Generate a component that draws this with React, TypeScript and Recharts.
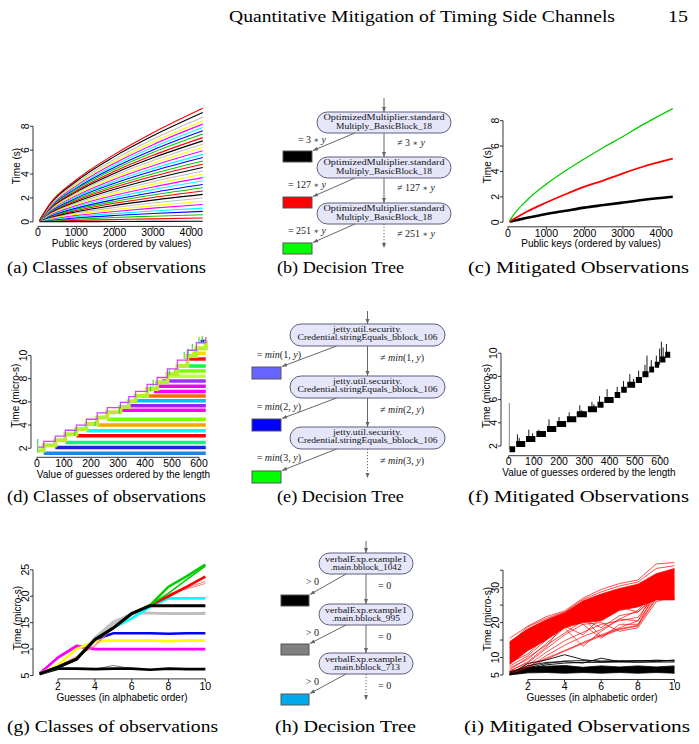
import React from 'react';
import { ComposedChart, Line, Area, XAxis, YAxis } from 'recharts';

const SANS = '"Liberation Sans", Arial, Helvetica, sans-serif';
const SERIF = '"Liberation Serif", "Times New Roman", serif';
const RPAL = ['#000000', '#FF0000', '#00CD00', '#0000FF', '#00FFFF', '#FF00FF', '#FFFF00', '#BEBEBE'];

// (a) classes of observations, one row per class, values at keyValues
const keyValues = [40, 300, 1000, 2000, 3000, 4300];
const classTimes = [
  [0.02, 0.02, 0.02, 0.03, 0.04, 0.05],
  [0.08, 0.09, 0.12, 0.19, 0.25, 0.32],
  [0.12, 0.13, 0.22, 0.36, 0.47, 0.6],
  [0.12, 0.15, 0.33, 0.53, 0.7, 0.88],
  [0.12, 0.19, 0.43, 0.69, 0.91, 1.15],
  [0.12, 0.23, 0.54, 0.87, 1.15, 1.45],
  [0.12, 0.27, 0.64, 1.03, 1.36, 1.72],
  [0.12, 0.31, 0.74, 1.2, 1.58, 2.0],
  [0.12, 0.36, 0.85, 1.38, 1.82, 2.3],
  [0.12, 0.4, 0.95, 1.55, 2.04, 2.58],
  [0.12, 0.44, 1.05, 1.71, 2.25, 2.85],
  [0.12, 0.48, 1.15, 1.87, 2.46, 3.12],
  [0.12, 0.53, 1.27, 2.05, 2.7, 3.42],
  [0.12, 0.57, 1.37, 2.22, 2.92, 3.7],
  [0.12, 0.62, 1.47, 2.39, 3.14, 3.98],
  [0.12, 0.66, 1.57, 2.55, 3.36, 4.25],
  [0.12, 0.71, 1.68, 2.73, 3.59, 4.55],
  [0.12, 0.75, 1.78, 2.89, 3.81, 4.82],
  [0.12, 0.79, 1.89, 3.06, 4.03, 5.1],
  [0.12, 0.83, 1.99, 3.23, 4.25, 5.38],
  [0.12, 0.88, 2.09, 3.39, 4.46, 5.65],
  [0.12, 0.92, 2.2, 3.57, 4.7, 5.95],
  [0.12, 0.96, 2.3, 3.73, 4.91, 6.22],
  [0.12, 1.01, 2.41, 3.9, 5.14, 6.5],
  [0.12, 1.05, 2.51, 4.07, 5.36, 6.78],
  [0.12, 1.09, 2.61, 4.23, 5.57, 7.05],
  [0.12, 1.14, 2.72, 4.41, 5.81, 7.35],
  [0.12, 1.18, 2.82, 4.57, 6.02, 7.62],
  [0.12, 1.22, 2.92, 4.74, 6.24, 7.9],
  [0.12, 1.27, 3.03, 4.91, 6.46, 8.18],
  [0.12, 1.31, 3.13, 5.07, 6.68, 8.45],
  [0.12, 1.36, 3.24, 5.25, 6.91, 8.75],
  [0.12, 1.42, 3.4, 5.48, 7.2, 9.15],
  [0.12, 1.47, 3.52, 5.65, 7.45, 9.5],
];

// (c) mitigated observations
const mitKeys = [40, 150, 500, 1000, 1500, 2000, 2500, 3000, 3500, 4300];
const mitGreen = [0.1, 0.6, 1.75, 3.0, 4.05, 5.0, 5.9, 6.75, 7.65, 8.95];
const mitRed = [0.05, 0.25, 0.85, 1.55, 2.2, 2.8, 3.3, 3.85, 4.35, 5.0];
const mitBlack = [0.05, 0.12, 0.35, 0.65, 0.9, 1.15, 1.35, 1.55, 1.75, 2.0];

// (d) classes of guesses
const dBandLevels = [1.57, 2.06, 2.5, 3.07, 3.5, 4.0, 4.5, 5.27, 5.67, 6.1, 6.5, 6.9, 7.35, 7.8, 8.2, 8.65, 9.1, 9.7, 10.2, 10.65, 11.2];
const dBandStarts = [25, 68, 105, 146, 183, 223, 260, 309, 340, 365, 408, 433, 445, 464, 483, 507, 520, 557, 575, 590, 606];
const dBandEnd = 625;
const dBandColors = ['#1C86EE', '#2020E8', '#00FF7F', '#FF0000', '#00FFFF', '#FFA500', '#7FFF00', '#FF00FF', '#A020F0', '#00BFFF', '#FF6A00', '#FF00FF', '#EE00EE', '#9B30FF', '#C0FF3E', '#7CFC00', '#00FF40', '#FF1010', '#FFD700', '#FFF000', '#0000FF'];
const dStairX = [5, 25, 68, 105, 146, 183, 223, 260, 309, 340, 365, 408, 445, 483, 520, 557, 590, 625];
const dStairY = [1.8, 2.25, 2.7, 3.2, 3.65, 4.1, 4.65, 5.1, 5.55, 6.05, 6.5, 7.1, 7.7, 8.4, 9.1, 9.95, 10.6, 11.3];
const dStairHiY = [2.1, 2.6, 3.05, 3.55, 4.0, 4.5, 5.05, 5.5, 5.95, 6.45, 6.9, 7.5, 8.1, 8.85, 9.6, 10.45, 11.1, 11.6];
const dSpikeX = [3, 140, 215, 305, 420, 430, 490, 545, 560, 575, 600, 612];
const dSpikeLo = [1.6, 3.1, 3.9, 5.0, 6.9, 7.3, 8.3, 9.7, 10.0, 10.5, 11.0, 11.1];
const dSpikeHi = [2.8, 3.5, 4.3, 5.6, 7.4, 7.9, 8.8, 10.3, 10.6, 11.0, 11.6, 11.7];

// (f) mitigated guesses
const fStarts = [4, 30, 69, 110, 152, 191, 231, 270, 314, 352, 379, 420, 446, 470, 504, 530, 557, 579, 600, 620];
const fEnds = [26, 66, 106, 148, 189, 228, 268, 310, 350, 376, 416, 442, 468, 501, 528, 554, 576, 596, 621, 640];
const fLevels = [1.71, 2.17, 2.6, 3.04, 3.47, 3.9, 4.3, 4.74, 5.17, 5.55, 5.97, 6.4, 6.84, 7.27, 7.7, 8.19, 8.6, 9.0, 9.45, 9.86];
const fSpikeX = [35, 42, 80, 95, 120, 160, 200, 240, 282, 290, 330, 338, 360, 390, 430, 455, 480, 495, 515, 540, 548, 565, 585, 598, 605, 612, 625];
const fSpikeLo = [2.2, 2.2, 2.6, 2.6, 3.0, 3.5, 3.9, 4.3, 4.7, 4.7, 5.2, 5.2, 5.6, 6.0, 6.4, 6.8, 7.3, 7.3, 7.7, 8.2, 8.2, 8.6, 9.0, 9.0, 9.5, 9.5, 9.9];
const fSpikeHi = [3.0, 2.7, 3.4, 3.1, 3.4, 4.3, 4.5, 4.9, 5.5, 5.1, 5.8, 5.6, 6.3, 6.9, 7.1, 7.6, 8.2, 7.8, 8.5, 9.0, 9.8, 9.4, 9.8, 10.4, 11.0, 10.5, 10.8];
const fTallX = [3];
const fTallLo = [1.7];
const fTallHi = [5.7];

// (g) classes of guesses, x = guess index
const guesses = [1, 2, 3, 4, 5, 6, 7, 8, 9, 10];
const gBlackLow = [5.3, 6.3, 6.3, 6.2, 6.3, 6.3, 6.1, 6.3, 6.2, 6.2];
const gGrayLow = [5.3, 6.2, 6.3, 6.2, 6.9, 6.3, 6.2, 6.2, 6.3, 6.2];
const gMagenta = [5.4, 8.4, 10.5, 10.0, 10.0, 10.0, 10.0, 10.0, 10.0, 10.0];
const gMagenta2 = [5.4, 8.6, 10.8, 10.1, 9.9, 10.0, 10.0, 9.9, 10.0, 10.0];
const gYellow = [5.3, 7.0, 10.0, 11.5, 11.6, 11.6, 11.6, 11.5, 11.6, 11.6];
const gBlue = [5.3, 6.6, 8.1, 11.8, 13.0, 13.0, 13.0, 12.9, 13.0, 13.0];
const gGray = [5.3, 6.6, 8.1, 11.9, 14.8, 16.8, 16.8, 16.7, 16.7, 16.7];
const gGray2 = [5.3, 6.7, 8.3, 12.3, 15.3, 16.7, 16.9, 16.8, 16.8, 16.9];
const gCyan = [5.3, 6.6, 8.1, 11.8, 14.0, 15.8, 18.0, 19.6, 19.6, 19.6];
const gRed = [5.3, 6.6, 8.1, 11.8, 14.0, 16.7, 18.3, 20.0, 21.8, 23.7];
const gRedThin1 = [5.3, 6.8, 8.6, 10.5, 14.0, 16.7, 18.3, 20.2, 21.4, 22.4];
const gRedThin2 = [5.3, 6.6, 8.4, 10.8, 14.0, 16.7, 18.3, 20.4, 21.6, 22.8];
const gGreen = [5.3, 6.6, 8.1, 11.8, 14.0, 16.7, 18.3, 21.8, 23.8, 26.0];
const gGreen2 = [5.3, 6.6, 8.1, 11.8, 14.0, 16.7, 18.3, 20.6, 23.2, 25.7];
const gBlackTop = [5.3, 6.6, 8.1, 11.8, 14.0, 16.7, 18.2, 18.2, 18.2, 18.2];

// (i) mitigated guesses
const iRedLo = [8, 12, 15, 18.5, 20, 20.5, 23.5, 24.5, 26.5, 26.5];
const iRedHi = [14.5, 18.2, 20.8, 22.8, 26.2, 28.2, 29.8, 31, 34, 35.5];
const iRedTop = [15.5, 19, 21.7, 23.3, 27, 29.5, 31.2, 32.2, 36.8, 37.2];
const iRedStray = [
  [5.3, 7.2, 10.5, 13.5, 16, 18, 21, 23.5, 29, 32],
  [5.6, 7.8, 11.5, 14.8, 17.2, 19.5, 20.5, 21.5, 28, 30],
  [6.2, 8.5, 12.5, 16.5, 19.5, 15.5, 19.5, 19.5, 27, 29.5],
  [7, 9.5, 14, 18.5, 13.2, 17.5, 21, 20.5, 27.5, 28.5],
  [5.5, 7.4, 9.8, 12, 14.3, 16.5, 18.5, 20.5, 30, 31],
  [6, 8.8, 13, 19.8, 21.5, 16, 18, 19, 26.8, 27],
  [8.5, 11, 16, 21, 19.5, 20, 17.5, 18.5, 26, 27.5],
  [10, 12.5, 15.5, 19.5, 21, 18.5, 22, 23, 27.5, 28],
  [5.2, 7, 9.5, 11.8, 14, 16.2, 18.2, 19.2, 29, 33],
  [6.5, 10, 13.5, 17, 20.5, 21, 24, 26, 30, 27],
  [12, 15, 17, 19, 16.5, 21.5, 24.5, 23, 28, 30.5],
  [7.5, 10.5, 15, 21.5, 20.5, 22, 25, 25.5, 29, 26.8],
  [14, 18.8, 21.2, 23, 26.6, 28.8, 30.5, 31.6, 35.5, 36.3],
  [13, 17.5, 20, 22.2, 25.5, 27.5, 29, 30.2, 33, 34.8],
];
const iBlackLo = [5.0, 5.6, 5.7, 5.5, 5.7, 5.5, 5.7, 5.5, 5.7, 5.5];
const iBlackHi = [6.0, 7.2, 7.5, 7.7, 7.2, 7.6, 7.3, 7.6, 7.3, 7.6];
const iBlackStray = [
  [5.0, 7.0, 8.3, 9.0, 9.1, 9.0, 9.1, 9.0, 9.2, 9.1],
  [5.2, 8.3, 9.3, 10.8, 9.4, 8.8, 8.9, 9.0, 9.2, 9.0],
  [5.5, 7.6, 8.6, 8.8, 8.4, 9.8, 8.8, 9.1, 8.8, 9.3],
  [5.1, 6.5, 7.9, 8.4, 8.6, 8.6, 8.7, 8.6, 8.7, 8.7],
];

// tables built from the arrays above
const aTable = keyValues.map((x, j) => {
  const row: any = { x };
  classTimes.forEach((ys, i) => { row['c' + i] = ys[j]; });
  return row;
});
const cTable = mitKeys.map((x, j) => ({ x, green: mitGreen[j], red: mitRed[j], black: mitBlack[j] }));
const gTable = guesses.map((x, j) => ({
  x, blackLow: gBlackLow[j], grayLow: gGrayLow[j], magenta: gMagenta[j], magenta2: gMagenta2[j],
  yellow: gYellow[j], blue: gBlue[j], gray: gGray[j], gray2: gGray2[j], cyan: gCyan[j],
  red: gRed[j], redThin1: gRedThin1[j], redThin2: gRedThin2[j], green: gGreen[j], green2: gGreen2[j],
  blackTop: gBlackTop[j],
}));
const iTable = guesses.map((x, j) => {
  const row: any = { x, redRange: [iRedLo[j], iRedHi[j]], redTop: iRedTop[j], blackRange: [iBlackLo[j], iBlackHi[j]] };
  iRedStray.forEach((s, k) => { row['r' + k] = s[j]; });
  iBlackStray.forEach((s, k) => { row['k' + k] = s[j]; });
  return row;
});
const segments = (xs: number[], lo: number[], hi: number[]) =>
  xs.flatMap((x, k) => [{ x, y: lo[k] }, { x, y: hi[k] }, { x: x + 0.01, y: null }]);
const blocks = fStarts.flatMap((s, k) => [{ x: s, y: fLevels[k] }, { x: fEnds[k], y: fLevels[k] }, { x: fEnds[k] + 0.01, y: null }]);

const TICK_FS = 10.5;
const AXIS = '#000';

function XTick(props: any) {
  const { x, y, payload, stepPx, last, dy } = props;
  const v = payload.value;
  return (
    <g>
      <line x1={x} y1={y} x2={x} y2={y + 3} stroke={AXIS} strokeWidth={0.8} />
      {v < last && <line x1={x} y1={y} x2={x + stepPx} y2={y} stroke={AXIS} strokeWidth={0.8} />}
      <text x={x} y={y + dy} textAnchor="middle" fontSize={TICK_FS} fontFamily={SANS} fill="#000">{v}</text>
    </g>
  );
}

function YTick(props: any) {
  const { x, y, payload, stepPx, last, labels } = props;
  const v = payload.value;
  const show = !labels || labels.includes(v);
  const tx = x - 3.8;
  return (
    <g>
      <line x1={x} y1={y} x2={x - 3} y2={y} stroke={AXIS} strokeWidth={0.8} />
      {v < last && <line x1={x} y1={y} x2={x} y2={y - stepPx} stroke={AXIS} strokeWidth={0.8} />}
      {show && (
        <text x={tx} y={y} transform={`rotate(-90 ${tx} ${y})`} textAnchor="middle" fontSize={TICK_FS} fontFamily={SANS} fill="#000">{v}</text>
      )}
    </g>
  );
}

const PAD_L = 40, PAD_T = 12, PAD_R = 12, PAD_B = 30;

function Panel(props: {
  plot: number[]; xDomain: number[]; yDomain: number[]; xTicks: number[]; yTicks: number[];
  yLabels?: number[]; data?: any[]; labelDy: number; children: React.ReactNode;
}) {
  const { plot, xDomain, yDomain, xTicks, yTicks, yLabels, data, labelDy, children } = props;
  const [l, t, r, b] = plot;
  const w = r - l, h = b - t;
  const xStep = (xTicks[1] - xTicks[0]) * w / (xDomain[1] - xDomain[0]);
  const yStep = (yTicks[1] - yTicks[0]) * h / (yDomain[1] - yDomain[0]);
  return (
    <div style={{ position: 'absolute', left: l - PAD_L, top: t - PAD_T }}>
      <ComposedChart width={w + PAD_L + PAD_R} height={h + PAD_T + PAD_B} data={data}
        margin={{ top: PAD_T, right: PAD_R, bottom: 0, left: 0 }}>
        <XAxis type="number" dataKey="x" domain={xDomain} allowDataOverflow ticks={xTicks} interval={0}
          height={PAD_B} axisLine={false} tickLine={false} tickSize={0} tickMargin={0}
          tick={(p: any) => <XTick {...p} stepPx={xStep} last={xTicks[xTicks.length - 1]} dy={labelDy} />} />
        <YAxis type="number" domain={yDomain} allowDataOverflow ticks={yTicks} interval={0}
          width={PAD_L} axisLine={false} tickLine={false} tickSize={0} tickMargin={0}
          tick={(p: any) => <YTick {...p} stepPx={yStep} last={yTicks[yTicks.length - 1]} labels={yLabels} />} />
        {children}
      </ComposedChart>
    </div>
  );
}

const ln = (key: string, color: string, width: number, extra: any = {}) => (
  <Line key={key} dataKey={key} stroke={color} strokeWidth={width} dot={false} activeDot={false}
    isAnimationActive={false} legendType="none" {...extra} />
);

type TreeSpec = {
  cx: number; nodeW: number; nodeH: number; nodeTops: number[]; nodeLines: string[][];
  lineDy: number[]; textW: number[][]; leafX: number; leafW: number; leafH: number;
  leafTops: number[]; leafColors: string[]; entryTop: number; dottedEnd: number; fromDx: number;
  eqLabels: React.ReactNode[]; eqX: number; eqDy: number; neqLabels: React.ReactNode[]; neqX: number; neqDy: number;
};

const it = (s: string) => <tspan fontStyle="italic">{s}</tspan>;
const ast = <tspan fontSize={8} fontFamily='"DejaVu Serif", serif'>∗</tspan>;

const treeB: TreeSpec = {
  cx: 384, nodeW: 134, nodeH: 21, nodeTops: [112, 157, 203],
  nodeLines: [['OptimizedMultiplier.standard', 'Multiply_BasicBlock_18'], ['OptimizedMultiplier.standard', 'Multiply_BasicBlock_18'], ['OptimizedMultiplier.standard', 'Multiply_BasicBlock_18']],
  lineDy: [8.4, 16.6], textW: [[121, 96], [121, 96], [121, 96]],
  leafX: 283, leafW: 29, leafH: 11, leafTops: [151, 197, 243], leafColors: ['#000000', '#FF0000', '#00FF00'],
  entryTop: 98, dottedEnd: 248, fromDx: 29,
  eqLabels: [<>= 3 {ast} {it('y')}</>, <>= 127 {ast} {it('y')}</>, <>= 251 {ast} {it('y')}</>], eqX: 326, eqDy: 10,
  neqLabels: [<>≠ 3 {ast} {it('y')}</>, <>≠ 127 {ast} {it('y')}</>, <>≠ 251 {ast} {it('y')}</>], neqX: 397, neqDy: 12.5,
};
const treeE: TreeSpec = {
  cx: 367.5, nodeW: 155, nodeH: 22, nodeTops: [324, 376, 427],
  nodeLines: [['jetty.util.security.', 'Credential.stringEquals_bblock_106'], ['jetty.util.security.', 'Credential.stringEquals_bblock_106'], ['jetty.util.security.', 'Credential.stringEquals_bblock_106']],
  lineDy: [7.6, 15.9], textW: [[69, 140], [69, 140], [69, 140]],
  leafX: 252, leafW: 29, leafH: 12, leafTops: [367, 419, 471], leafColors: ['#6666FF', '#0000FF', '#00FF00'],
  entryTop: 311, dottedEnd: 478, fromDx: 31,
  eqLabels: [1, 2, 3].map((k) => <>= {it('min')}({k}, {it('y')})</>), eqX: 301, eqDy: 11.5,
  neqLabels: [1, 2, 3].map((k) => <>≠ {it('min')}({k}, {it('y')})</>), neqX: 380, neqDy: 15,
};
const treeH: TreeSpec = {
  cx: 366, nodeW: 94, nodeH: 21, nodeTops: [553, 604, 653],
  nodeLines: [['verbalExp.example1', '.main.bblock_1042'], ['verbalExp.example1', '.main.bblock_995'], ['verbalExp.example1', '.main.bblock_713']],
  lineDy: [8.8, 17.1], textW: [[82, 71], [82, 68], [82, 68]],
  leafX: 281, leafW: 28, leafH: 11, leafTops: [595, 644, 694], leafColors: ['#000000', '#808080', '#00A8EC'],
  entryTop: 541, dottedEnd: 700, fromDx: 20,
  eqLabels: ['> 0', '> 0', '> 0'], eqX: 319, eqDy: 11,
  neqLabels: ['= 0', '= 0', '= 0'], neqX: 378, neqDy: 14.5,
};

function Tree({ s }: { s: TreeSpec }) {
  const edge = { stroke: '#666', strokeWidth: 1, markerEnd: 'url(#ah)' };
  return (
    <g>
      <line x1={s.cx} y1={s.entryTop} x2={s.cx} y2={s.nodeTops[0]} {...edge} />
      {s.nodeTops.map((top, i) => {
        const bot = top + s.nodeH;
        const last = i === s.nodeTops.length - 1;
        return (
          <g key={i}>
            <rect x={s.cx - s.nodeW / 2} y={top} width={s.nodeW} height={s.nodeH} rx={s.nodeH / 2}
              fill="#E6E6FA" stroke="#5E5E7A" strokeWidth={1} />
            {s.nodeLines[i].map((txt, j) => (
              <text key={j} x={s.cx} y={top + s.lineDy[j]} textAnchor="middle" fontSize={7.8} fontFamily={SERIF}
                textLength={s.textW[i][j]} lengthAdjust="spacingAndGlyphs" fill="#111">{txt}</text>
            ))}
            <line x1={s.cx - s.fromDx} y1={bot} x2={s.leafX + s.leafW + 1} y2={s.leafTops[i] - 0.5} {...edge} />
            <line x1={s.cx} y1={bot} x2={s.cx} y2={last ? s.dottedEnd : s.nodeTops[i + 1]} {...edge}
              strokeDasharray={last ? '1.2 1.8' : undefined} />
            <rect x={s.leafX} y={s.leafTops[i]} width={s.leafW} height={s.leafH} fill={s.leafColors[i]} stroke="#555" strokeWidth={1} />
            <text x={s.eqX} y={bot + s.eqDy} textAnchor="end" fontSize={10} fontFamily={SERIF} fill="#222">{s.eqLabels[i]}</text>
            <text x={s.neqX} y={bot + s.neqDy} fontSize={10} fontFamily={SERIF} fill="#222">{s.neqLabels[i]}</text>
          </g>
        );
      })}
    </g>
  );
}

const TITLE_FS = 10;
function XTitle({ x, y, text }: { x: number; y: number; text: string }) {
  return <text x={x} y={y} textAnchor="middle" fontSize={TITLE_FS} fontFamily={SANS} fill="#000">{text}</text>;
}
function YTitle({ x, y, text }: { x: number; y: number; text: string }) {
  return <text x={x} y={y} transform={`rotate(-90 ${x} ${y})`} textAnchor="middle" fontSize={TITLE_FS} fontFamily={SANS} fill="#000">{text}</text>;
}
function Caption({ x, y, w, text }: { x: number; y: number; w: number; text: string }) {
  return <text x={x} y={y} fontSize={16} fontFamily={SERIF} textLength={w} lengthAdjust="spacingAndGlyphs" fill="#000">{text}</text>;
}

const mono = { type: 'monotone' };

export default function App() {
  return (
    <div style={{ position: 'absolute', left: 0, top: 0, width: 699, height: 744, background: '#fff', overflow: 'hidden' }}>
      {/* (a) */}
      <Panel plot={[33.3, 105.4, 209.6, 226.8]} xDomain={[-130, 4470]} yDomain={[-0.38, 9.78]} labelDy={9.5}
        xTicks={[0, 1000, 2000, 3000, 4000]} yTicks={[0, 2, 4, 6, 8]} data={aTable}>
        {classTimes.map((_, i) => ln('c' + i, RPAL[i % 8], 1.1, mono))}
      </Panel>
      {/* (c) */}
      <Panel plot={[502.7, 103.5, 679, 226.3]} xDomain={[-130, 4470]} yDomain={[-0.36, 9.31]} labelDy={10}
        xTicks={[0, 1000, 2000, 3000, 4000]} yTicks={[0, 2, 4, 6, 8]} data={cTable}>
        {ln('black', '#000000', 2.6, mono)}
        {ln('red', '#FF0000', 1.8, mono)}
        {ln('green', '#00CD00', 1.3, mono)}
      </Panel>
      {/* (d) */}
      <Panel plot={[30.7, 334, 216.3, 457.3]} xDomain={[-22, 665]} yDomain={[1.22, 11.85]} labelDy={10}
        xTicks={[0, 100, 200, 300, 400, 500, 600]} yTicks={[2, 4, 6, 8, 10]}>
        {dBandLevels.map((lv, i) => (
          <Line key={'b' + i} data={[{ x: dBandStarts[i], y: lv }, { x: dBandEnd, y: lv }]} dataKey="y"
            stroke={dBandColors[i]} strokeWidth={3.5} dot={false} activeDot={false} isAnimationActive={false} legendType="none" />
        ))}
        <Line data={dStairX.map((x, k) => ({ x, y: dStairY[k] }))} dataKey="y" type="stepAfter" stroke="#B8EE30"
          strokeWidth={4} dot={false} activeDot={false} isAnimationActive={false} legendType="none" />
        <Line data={dStairX.map((x, k) => ({ x, y: dStairHiY[k] }))} dataKey="y" type="stepAfter" stroke="#CC44FF"
          strokeWidth={1.3} dot={false} activeDot={false} isAnimationActive={false} legendType="none" />
        <Line data={segments(dSpikeX, dSpikeLo, dSpikeHi)} dataKey="y" stroke="#33CC33" strokeWidth={1}
          dot={false} activeDot={false} isAnimationActive={false} legendType="none" />
      </Panel>
      {/* (f) */}
      <Panel plot={[500.7, 337, 677, 455.7]} xDomain={[-30, 668]} yDomain={[1.16, 11.4]} labelDy={9}
        xTicks={[0, 100, 200, 300, 400, 500, 600]} yTicks={[2, 4, 6, 8, 10]}>
        <Line data={segments(fTallX, fTallLo, fTallHi)} dataKey="y" stroke="#888" strokeWidth={1}
          dot={false} activeDot={false} isAnimationActive={false} legendType="none" />
        <Line data={blocks} dataKey="y" stroke="#000" strokeWidth={6} dot={false} activeDot={false}
          isAnimationActive={false} legendType="none" />
        <Line data={segments(fSpikeX, fSpikeLo, fSpikeHi)} dataKey="y" stroke="#000" strokeWidth={0.9}
          dot={false} activeDot={false} isAnimationActive={false} legendType="none" />
      </Panel>
      {/* (g) */}
      <Panel plot={[32.6, 558.5, 211.6, 678.4]} xDomain={[0.64, 10.36]} yDomain={[4.36, 27.04]} labelDy={11.5}
        xTicks={[2, 4, 6, 8, 10]} yTicks={[5, 10, 15, 20, 25]} data={gTable}>
        {ln('grayLow', '#777777', 1)}
        {ln('blackLow', '#000000', 2.6)}
        {ln('magenta2', '#FF00FF', 1)}
        {ln('magenta', '#FF00FF', 2.6)}
        {ln('yellow', '#FFFF00', 2.6)}
        {ln('blue', '#0000FF', 2.6)}
        {ln('gray2', '#BEBEBE', 1.5)}
        {ln('gray', '#BEBEBE', 2.6)}
        {ln('cyan', '#00FFFF', 2.6)}
        {ln('redThin1', '#FF6060', 0.8)}
        {ln('redThin2', '#FF6060', 0.8)}
        {ln('red', '#FF0000', 2.6)}
        {ln('green2', '#00CD00', 1.5)}
        {ln('green', '#00CD00', 2.6)}
        {ln('blackTop', '#000000', 3)}
      </Panel>
      {/* (i) */}
      <Panel plot={[502.8, 558, 680.9, 679.5]} xDomain={[0.64, 10.36]} yDomain={[3.7, 38.5]} labelDy={11}
        xTicks={[2, 4, 6, 8, 10]} yTicks={[5, 10, 15, 20, 25, 30, 35]} yLabels={[5, 10, 20, 30]} data={iTable}>
        <Area dataKey="redRange" stroke="#FF0000" strokeWidth={0.8} fill="#FF0000" fillOpacity={1}
          isAnimationActive={false} legendType="none" activeDot={false} />
        {ln('redTop', '#FF0000', 0.7)}
        {iRedStray.map((_, k) => ln('r' + k, '#FF0000', 0.7))}
        <Area dataKey="blackRange" stroke="#000" strokeWidth={0.8} fill="#000" fillOpacity={1}
          isAnimationActive={false} legendType="none" activeDot={false} />
        {iBlackStray.map((_, k) => ln('k' + k, '#000000', 0.9))}
      </Panel>

      <svg width={699} height={744} style={{ position: 'absolute', left: 0, top: 0, pointerEvents: 'none' }}>
        <defs>
          <marker id="ah" viewBox="0 0 10 10" refX="10" refY="5" markerWidth="5" markerHeight="5"
            markerUnits="userSpaceOnUse" orient="auto">
            <path d="M0,1 L10,5 L0,9 z" fill="#666" />
          </marker>
        </defs>
        <text x={229} y={21.5} fontSize={16.5} fontFamily={SERIF} textLength={386} lengthAdjust="spacingAndGlyphs">Quantitative Mitigation of Timing Side Channels</text>
        <text x={668} y={21.5} fontSize={16.5} fontFamily={SERIF} textLength={20} lengthAdjust="spacingAndGlyphs">15</text>

        <XTitle x={121.5} y={246.5} text="Public keys (ordered by values)" />
        <YTitle x={20.3} y={166} text="Time (s)" />
        <XTitle x={591} y={246.5} text="Public keys (ordered by values)" />
        <YTitle x={490.5} y={165} text="Time (s)" />
        <XTitle x={123.5} y={478} text="Value of guesses ordered by the length" />
        <YTitle x={19.5} y={395.6} text="Time (micro-s)" />
        <XTitle x={589} y={476} text="Value of guesses ordered by the length" />
        <YTitle x={490} y={396} text="Time (micro-s)" />
        <XTitle x={122} y={701} text="Guesses (in alphabetic order)" />
        <YTitle x={21} y={618} text="Time (micro-s)" />
        <XTitle x={592} y={701} text="Guesses (in alphabetic order)" />
        <YTitle x={490.5} y={619} text="Time (micro-s)" />

        <Tree s={treeB} />
        <Tree s={treeE} />
        <Tree s={treeH} />

        <Caption x={7} y={273} w={199} text="(a) Classes of observations" />
        <Caption x={277} y={273} w={127} text="(b) Decision Tree" />
        <Caption x={468} y={273} w={221} text="(c) Mitigated Observations" />
        <Caption x={7} y={502} w={199} text="(d) Classes of observations" />
        <Caption x={277} y={502} w={127} text="(e) Decision Tree" />
        <Caption x={468} y={502} w={221} text="(f) Mitigated Observations" />
        <Caption x={7} y={732} w={211} text="(g) Classes of observations" />
        <Caption x={275} y={732} w={141} text="(h) Decision Tree" />
        <Caption x={464} y={732} w={226} text="(i) Mitigated Observations" />
      </svg>
    </div>
  );
}
